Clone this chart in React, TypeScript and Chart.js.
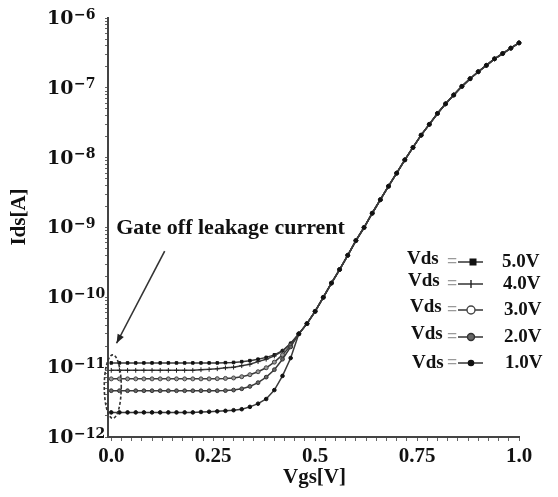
import React, { useEffect, useRef } from 'react';
import { Chart, registerables } from 'chart.js';

Chart.register(...registerables);

// Gate voltage samples (V)
const vgs = [
  0, 0.02, 0.04, 0.06, 0.08, 0.1, 0.12, 0.14, 0.16, 0.18, 0.2, 0.22, 0.24, 0.26, 0.28,
  0.3, 0.32, 0.34, 0.36, 0.38, 0.4, 0.42, 0.44,
  0.46, 0.48, 0.5, 0.52, 0.54, 0.56, 0.58, 0.6, 0.62, 0.64, 0.66, 0.68, 0.7, 0.72,
  0.74, 0.76, 0.78, 0.8, 0.82, 0.84, 0.86, 0.88, 0.9, 0.92, 0.94, 0.96, 0.98, 1.0,
];

// Shared on-state current for Vgs = 0.46 .. 1.0 (all Vds curves coincide)
const idsOnShared = [
  3.0e-11, 4.2e-11, 6.3e-11, 1.0e-10, 1.6e-10, 2.5e-10, 4.0e-10, 6.5e-10,
  1.0e-9, 1.6e-9, 2.5e-9, 3.9e-9, 6.0e-9, 9.3e-9, 1.4e-8, 2.1e-8, 3.0e-8, 4.3e-8,
  5.9e-8, 7.9e-8, 1.05e-7, 1.35e-7, 1.7e-7, 2.1e-7, 2.6e-7, 3.1e-7, 3.7e-7, 4.4e-7,
];

// Off-state current for Vgs = 0 .. 0.44, per Vds
const idsVds5Low = [
  1.15e-11, 1.15e-11, 1.15e-11, 1.15e-11, 1.15e-11, 1.15e-11, 1.15e-11, 1.15e-11,
  1.15e-11, 1.15e-11, 1.15e-11, 1.15e-11, 1.15e-11, 1.15e-11, 1.16e-11,
  1.17e-11, 1.2e-11, 1.24e-11, 1.3e-11, 1.38e-11, 1.5e-11, 1.72e-11, 2.2e-11,
];
const idsVds4Low = [
  9.0e-12, 9.0e-12, 9.0e-12, 9.0e-12, 9.0e-12, 9.0e-12, 9.0e-12, 9.0e-12,
  9.0e-12, 9.0e-12, 9.0e-12, 9.2e-12, 9.3e-12, 9.5e-12, 9.8e-12,
  1.0e-11, 1.05e-11, 1.1e-11, 1.2e-11, 1.3e-11, 1.45e-11, 1.7e-11, 2.15e-11,
];
const idsVds3Low = [
  6.8e-12, 6.8e-12, 6.8e-12, 6.8e-12, 6.8e-12, 6.8e-12, 6.8e-12, 6.8e-12,
  6.8e-12, 6.8e-12, 6.8e-12, 6.8e-12, 6.8e-12, 6.85e-12, 6.9e-12,
  7.0e-12, 7.3e-12, 7.8e-12, 8.6e-12, 9.8e-12, 1.18e-11, 1.5e-11, 2.05e-11,
];
const idsVds2Low = [
  4.6e-12, 4.6e-12, 4.6e-12, 4.6e-12, 4.6e-12, 4.6e-12, 4.6e-12, 4.6e-12,
  4.6e-12, 4.6e-12, 4.6e-12, 4.6e-12, 4.6e-12, 4.6e-12, 4.62e-12,
  4.7e-12, 4.9e-12, 5.3e-12, 6.0e-12, 7.2e-12, 9.2e-12, 1.3e-11, 1.95e-11,
];
const idsVds1Low = [
  2.25e-12, 2.25e-12, 2.25e-12, 2.25e-12, 2.25e-12, 2.25e-12, 2.25e-12, 2.25e-12,
  2.25e-12, 2.25e-12, 2.25e-12, 2.28e-12, 2.3e-12, 2.33e-12, 2.37e-12,
  2.42e-12, 2.5e-12, 2.7e-12, 3.0e-12, 3.5e-12, 4.7e-12, 7.5e-12, 1.35e-11,
];

const seriesLabels = ['5.0V', '4.0V', '3.0V', '2.0V', '1.0V'];
const seriesLow = [idsVds5Low, idsVds4Low, idsVds3Low, idsVds2Low, idsVds1Low];

const xTickValues = [0, 0.25, 0.5, 0.75, 1.0];
const xTickLabels = ['0.0', '0.25', '0.5', '0.75', '1.0'];
const yTickExponents = [-6, -7, -8, -9, -10, -11, -12];

// styles (kept apart from the data)
const seriesStyles = [
  { pointStyle: 'rect', radius: 1.8, bg: '#111', border: '#111', order: 4 },
  { pointStyle: 'cross', radius: 2.4, bg: '#222', border: '#222', order: 3 },
  { pointStyle: 'circle', radius: 2.0, bg: '#999', border: '#444', order: 2 },
  { pointStyle: 'circle', radius: 1.9, bg: '#666', border: '#333', order: 1 },
  { pointStyle: 'circle', radius: 1.8, bg: '#111', border: '#111', order: 0 },
];

const SERIF = "'Liberation Serif', 'Times New Roman', serif";
const MATH = "'DejaVu Serif', serif";
const W = 558;
const H = 497;

const decorPlugin = {
  id: 'decor',
  afterDraw(chart: any) {
    const ctx = chart.ctx as CanvasRenderingContext2D;
    const xs = chart.scales.x;
    const ys = chart.scales.y;
    ctx.save();
    ctx.fillStyle = '#111';

    // y tick labels 10^n
    for (const e of yTickExponents) {
      const y = ys.getPixelForValue(Math.pow(10, e));
      ctx.font = `bold 19px ${MATH}`;
      ctx.textAlign = 'left';
      ctx.textBaseline = 'middle';
      ctx.fillText('10', 47, y + 1);
      const w = ctx.measureText('10').width;
      ctx.font = `bold 14px ${MATH}`;
      ctx.textBaseline = 'alphabetic';
      ctx.fillText('\u2212' + Math.abs(e), 47 + w + 0.5, y + 0.5);
    }

    // axis titles
    ctx.font = `bold 21px ${SERIF}`;
    ctx.textAlign = 'center';
    ctx.textBaseline = 'middle';
    ctx.fillText('Vgs[V]', (chart.chartArea.left + chart.chartArea.right) / 2 + 1, 478);
    ctx.save();
    ctx.translate(20, 217);
    ctx.rotate(-Math.PI / 2);
    ctx.fillText('Ids[A]', 0, 0);
    ctx.restore();

    // annotation text
    ctx.font = `bold 22px ${SERIF}`;
    ctx.textAlign = 'left';
    ctx.textBaseline = 'middle';
    ctx.fillText('Gate off leakage current', xs.getPixelForValue(0.012), ys.getPixelForValue(9.8e-10));

    // arrow
    const ax0 = xs.getPixelForValue(0.131);
    const ay0 = ys.getPixelForValue(4.6e-10);
    const ax1 = xs.getPixelForValue(0.013);
    const ay1 = ys.getPixelForValue(2.2e-11);
    ctx.strokeStyle = '#333';
    ctx.lineWidth = 1.6;
    ctx.beginPath();
    ctx.moveTo(ax0, ay0);
    ctx.lineTo(ax1, ay1);
    ctx.stroke();
    const ang = Math.atan2(ay1 - ay0, ax1 - ax0);
    const hl = 9;
    const hw = 3.5;
    ctx.fillStyle = '#222';
    ctx.beginPath();
    ctx.moveTo(ax1, ay1);
    ctx.lineTo(ax1 - hl * Math.cos(ang) + hw * Math.sin(ang), ay1 - hl * Math.sin(ang) - hw * Math.cos(ang));
    ctx.lineTo(ax1 - hl * Math.cos(ang) - hw * Math.sin(ang), ay1 - hl * Math.sin(ang) + hw * Math.cos(ang));
    ctx.closePath();
    ctx.fill();

    // dashed ellipse around the off currents
    const eTop = ys.getPixelForValue(1.5e-11);
    const eBot = ys.getPixelForValue(1.85e-12);
    const ecx = xs.getPixelForValue(0) + 1.5;
    ctx.strokeStyle = '#333';
    ctx.lineWidth = 1.6;
    ctx.setLineDash([3, 2]);
    ctx.beginPath();
    ctx.ellipse(ecx, (eTop + eBot) / 2, 8.5, (eBot - eTop) / 2, 0, 0, Math.PI * 2);
    ctx.stroke();
    ctx.setLineDash([]);

    // legend
    const rowsY = [262, 284, 310, 337, 363];
    const vdsX = [407, 408, 410, 411, 412];
    const labX = [502, 503, 504, 504, 505];
    rowsY.forEach((ry, i) => {
      ctx.fillStyle = '#111';
      ctx.font = `bold 19px ${SERIF}`;
      ctx.textAlign = 'left';
      ctx.textBaseline = 'middle';
      ctx.fillText('Vds', vdsX[i], ry - (i === 4 ? 0 : 3));
      ctx.fillText(seriesLabels[i], labX[i], ry);
      ctx.fillStyle = '#9a9a9a';
      ctx.font = `bold 18px ${SERIF}`;
      ctx.fillText('=', 447, ry);
      ctx.strokeStyle = '#333';
      ctx.lineWidth = 1.5;
      ctx.beginPath();
      ctx.moveTo(458, ry);
      ctx.lineTo(483, ry);
      ctx.stroke();
      const mx = i === 0 ? 473 : 471;
      const st = seriesStyles[i];
      ctx.fillStyle = st.bg;
      ctx.strokeStyle = st.border;
      ctx.lineWidth = 1.4;
      if (st.pointStyle === 'rect') {
        ctx.fillRect(mx - 3.5, ry - 3.5, 7, 7);
      } else if (st.pointStyle === 'cross') {
        ctx.beginPath();
        ctx.moveTo(mx, ry - 4);
        ctx.lineTo(mx, ry + 4);
        ctx.stroke();
      } else {
        const r = i === 2 ? 4 : i === 3 ? 3.5 : 2.6;
        ctx.fillStyle = i === 2 ? '#fff' : st.bg;
        ctx.beginPath();
        ctx.arc(mx, ry, r, 0, Math.PI * 2);
        ctx.fill();
        ctx.stroke();
      }
    });

    ctx.restore();
  },
};

export default function App() {
  const ref = useRef<HTMLCanvasElement | null>(null);

  useEffect(() => {
    if (!ref.current) return;
    const datasets = seriesLabels.map((label, i) => {
      const values = seriesLow[i].concat(idsOnShared);
      const st = seriesStyles[i];
      return {
        label: 'Vds = ' + label,
        data: vgs.map((v, k) => ({ x: v, y: values[k] })),
        borderColor: '#3a3a3a',
        borderWidth: 1.5,
        backgroundColor: st.bg,
        pointStyle: st.pointStyle as any,
        pointRadius: st.radius,
        pointBackgroundColor: st.bg,
        pointBorderColor: st.border,
        pointBorderWidth: 1,
        tension: 0,
        fill: false,
        order: st.order,
        clip: false as any,
      };
    });

    const chart = new Chart(ref.current, {
      type: 'line',
      data: { datasets },
      options: {
        animation: false,
        responsive: false,
        events: [],
        layout: { padding: { top: 18, right: W - 519, bottom: 0, left: 0 } },
        plugins: { legend: { display: false }, tooltip: { enabled: false } },
        scales: {
          x: {
            type: 'linear',
            min: -0.008,
            max: 1.0,
            afterBuildTicks: (s: any) => {
              const t: any[] = [];
              for (let k = 0; k <= 40; k++) t.push({ value: k * 0.025 });
              s.ticks = t;
            },
            afterFit: (s: any) => {
              s.height = H - 437;
            },
            ticks: {
              autoSkip: false,
              maxRotation: 0,
              padding: 3,
              color: '#111',
              font: { family: SERIF, size: 21, weight: 'bold' },
              callback: (v: any) => {
                const idx = xTickValues.findIndex((t) => Math.abs(t - Number(v)) < 1e-6);
                return idx >= 0 ? xTickLabels[idx] : '';
              },
            },
            grid: { drawOnChartArea: false, drawTicks: true, tickLength: 4, color: '#666' },
            border: { color: '#444', width: 2 },
          },
          y: {
            type: 'logarithmic',
            min: 1e-12,
            max: 1e-6,
            afterBuildTicks: (s: any) => {
              const t: any[] = [];
              for (let e = -12; e < -6; e++) {
                for (let m = 1; m <= 9; m++) t.push({ value: m * Math.pow(10, e) });
              }
              t.push({ value: 1e-6 });
              s.ticks = t;
            },
            afterFit: (s: any) => {
              s.width = 108;
            },
            ticks: { display: false },
            grid: { drawOnChartArea: false, drawTicks: true, tickLength: 3, color: '#666' },
            border: { color: '#444', width: 2 },
          },
        },
      },
      plugins: [decorPlugin],
    });
    return () => chart.destroy();
  }, []);

  return (
    <div style={{ position: 'absolute', left: 0, top: 0, width: W, height: H, background: '#fff' }}>
      <canvas ref={ref} width={W} height={H} style={{ display: 'block' }} />
    </div>
  );
}
